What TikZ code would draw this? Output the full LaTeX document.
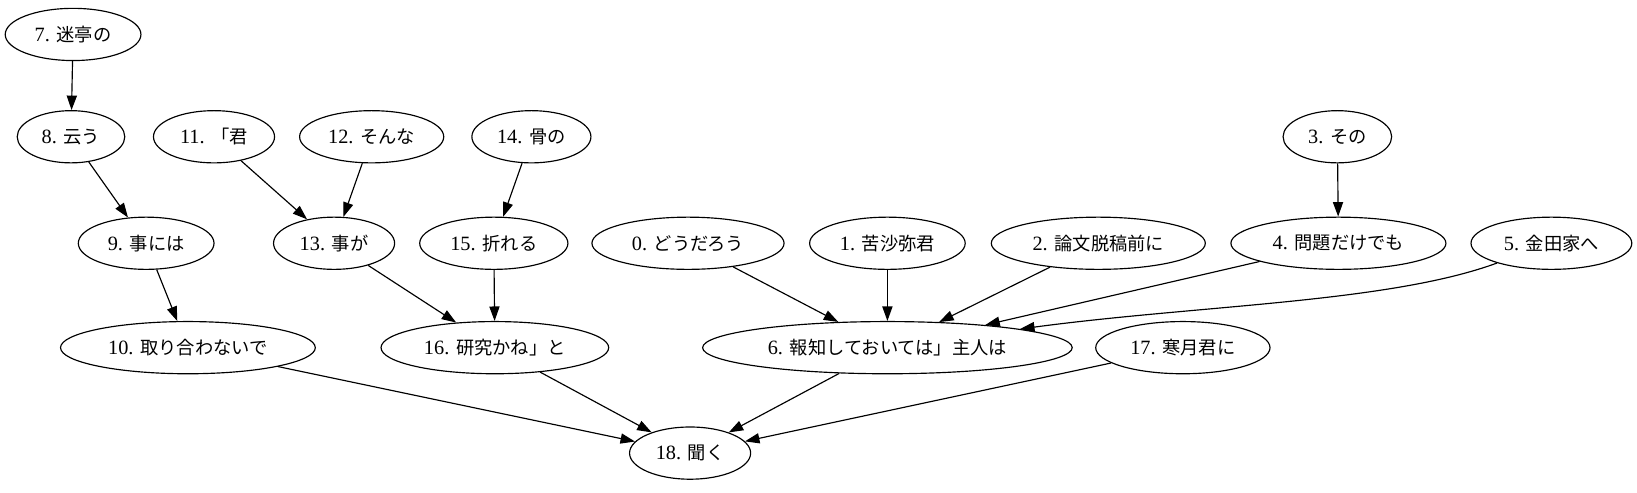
\documentclass[tikz,border=0pt]{standalone}
\usepackage{fontspec}
\setmainfont{Liberation Serif}
\newfontfamily\jpfont[Scale=0.9]{Noto Sans CJK JP}
\newcommand{\jp}[1]{{\jpfont #1}}
\usetikzlibrary{arrows.meta}
\usetikzlibrary{shapes.geometric}

\begin{document}
\begin{tikzpicture} [x=0.72pt, y=-0.72pt,
  tok/.style={ellipse, draw, line width=0.8pt, minimum height=36pt, inner sep=0pt,
    font=\fontsize{14pt}{16pt}\selectfont},
  edge/.style={black, line width=0.8pt, ->, >={Triangle[length=10pt,width=7pt]}}]
\useasboundingbox (0,0) rectangle (1568,472);
% top rows
\node[tok, minimum width=93.6pt] (t7) at (70,33) {7. \jp{迷亭の}};
\node[tok, minimum width=74.2pt] (t8) at (68,131) {8. \jp{云う}};
\node[tok, minimum width=83.5pt] (t11) at (205,131) {11. \jp{「君}};
\node[tok, minimum width=99.4pt] (t12) at (356,131) {12. \jp{そんな}};
\node[tok, minimum width=82.1pt] (t14) at (509,131) {14. \jp{骨の}};
\node[tok, minimum width=74.9pt] (t3) at (1281,131) {3. \jp{その}};
% middle row
\node[tok, minimum width=93.6pt] (t9) at (140,233) {9. \jp{事には}};
\node[tok, minimum width=83.5pt] (t13) at (320,233) {13. \jp{事が}};
\node[tok, minimum width=102.2pt] (t15) at (473,233) {15. \jp{折れる}};
\node[tok, minimum width=132.5pt] (t0) at (659,233) {0. \jp{どうだろう}};
\node[tok, minimum width=107.3pt] (t1) at (850,233) {1. \jp{苦沙弥君}};
\node[tok, minimum width=147.6pt] (t2) at (1052,233) {2. \jp{論文脱稿前に}};
\node[tok, minimum width=148.3pt] (t4) at (1282,233) {4. \jp{問題だけでも}};
\node[tok, minimum width=110.9pt] (t5) at (1486,233) {5. \jp{金田家へ}};
% lower rows
\node[tok, minimum width=175.7pt] (t10) at (180,333) {10. \jp{取り合わないで}};
\node[tok, minimum width=157pt] (t16) at (474,333) {16. \jp{研究かね」と}};
\node[tok, minimum width=254.9pt] (t6) at (850,333) {6. \jp{報知しておいては」主人は}};
\node[tok, minimum width=120.2pt] (t17) at (1133,333) {17. \jp{寒月君に}};
\node[tok, minimum width=83.5pt] (t18) at (661,434) {18. \jp{聞く}};
% dependencies
\foreach \a/\b in {t7/t8, t8/t9, t9/t10, t11/t13, t12/t13, t13/t16, t14/t15, t15/t16,
  t3/t4, t0/t6, t1/t6, t2/t6, t4/t6, t10/t18, t16/t18, t6/t18, t17/t18} {
 \draw[edge] (\a) -- (\b);
}
\draw[edge] (t5.200) .. controls (1330,290) and (1150,292) .. (t6.8);
\end{tikzpicture}
\end{document}
